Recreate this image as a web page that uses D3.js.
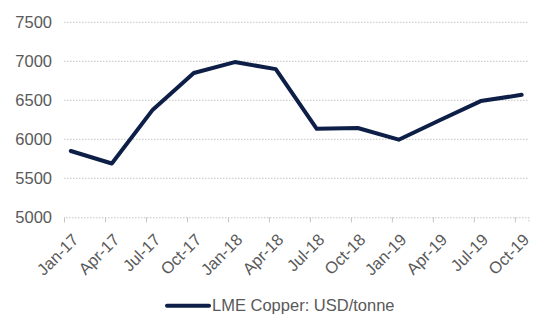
<!DOCTYPE html>
<html>
<head>
<meta charset="utf-8">
<script src="https://cdn.jsdelivr.net/npm/d3@7"></script>
<style>
  html, body { margin: 0; padding: 0; background: #ffffff; }
  svg { display: block; font-family: "Liberation Sans", Arial, sans-serif; }
</style>
</head>
<body>
<svg id="chart" width="557" height="334"></svg>
<script>
// Quarterly LME copper price, USD per tonne
const categories = ["Jan-17", "Apr-17", "Jul-17", "Oct-17", "Jan-18", "Apr-18",
                    "Jul-18", "Oct-18", "Jan-19", "Apr-19", "Jul-19", "Oct-19"];
const copperValues = [5850, 5690, 6380, 6850, 6990, 6900,
                      6135, 6145, 5995, 6245, 6490, 6570];
const yTicks = [5000, 5500, 6000, 6500, 7000, 7500];
const seriesName = "LME Copper: USD/tonne";

const svg = d3.select("#chart");
const margin = { left: 64, right: 28.5, top: 22.3, bottom: 116.7 };
const W = 557, H = 334;
const textColor = "#595959";
const lineColor = "#0d1e47";

// Month-based time axis: each category starts a quarter, points sit mid-month
const monthCount = categories.length * 3 - 2;   // Jan-17 through Oct-19
const x = d3.scaleLinear()
  .domain([0, monthCount])
  .range([margin.left, W - margin.right]);
const y = d3.scaleLinear()
  .domain([5000, 7500])
  .range([H - margin.bottom, margin.top]);

const monthOf = i => i * 3;

// Horizontal gridlines
svg.append("g")
  .selectAll("line")
  .data(yTicks.slice(1))
  .join("line")
  .attr("x1", x(0)).attr("x2", x(monthCount))
  .attr("y1", d => y(d)).attr("y2", d => y(d))
  .attr("stroke", "#c4c4c4")
  .attr("stroke-width", 1)
  .attr("stroke-dasharray", "1.5,1.5");

// Y axis labels
const yAxis = d3.axisLeft(y).tickValues(yTicks).tickSize(0).tickPadding(12).tickFormat(d3.format("d"));
const gy = svg.append("g").attr("transform", `translate(${x(0)},0)`).call(yAxis);
gy.select(".domain").remove();
gy.selectAll("text")
  .attr("fill", textColor)
  .attr("font-size", 16.5)
  .attr("font-family", "'Liberation Sans', Arial, sans-serif");

// X axis: baseline, tick marks and rotated labels
const xAxis = d3.axisBottom(x)
  .tickValues(categories.map((c, i) => monthOf(i)))
  .tickSize(5)
  .tickFormat((d, i) => categories[i]);
const gx = svg.append("g").attr("transform", `translate(0,${y(5000)})`).call(xAxis);
gx.select(".domain")
  .attr("stroke", "#c4c4c4")
  .attr("stroke-dasharray", "1.5,1.5");
gx.selectAll(".tick line").attr("stroke", "#c4c4c4");
gx.selectAll(".tick text")
  .attr("fill", textColor)
  .attr("font-size", 16.5)
  .attr("font-family", "'Liberation Sans', Arial, sans-serif")
  .attr("text-anchor", "end")
  .attr("y", 0)
  .attr("dy", 0)
  .attr("transform", "translate(15,23.5) rotate(-45)");

// Price line
const line = d3.line()
  .x((d, i) => x(monthOf(i) + 0.5))
  .y(d => y(d));
svg.append("path")
  .datum(copperValues)
  .attr("d", line)
  .attr("fill", "none")
  .attr("stroke", lineColor)
  .attr("stroke-width", 4)
  .attr("stroke-linejoin", "round")
  .attr("stroke-linecap", "round");

// Legend
const legend = svg.append("g").attr("transform", "translate(167,305.7)");
legend.append("line")
  .attr("x1", 0).attr("x2", 42)
  .attr("y1", 0).attr("y2", 0)
  .attr("stroke", lineColor)
  .attr("stroke-width", 4)
  .attr("stroke-linecap", "round");
legend.append("text")
  .attr("x", 45).attr("y", 5.5)
  .attr("fill", textColor)
  .attr("font-size", 16.5)
  .text(seriesName);
</script>
</body>
</html>
